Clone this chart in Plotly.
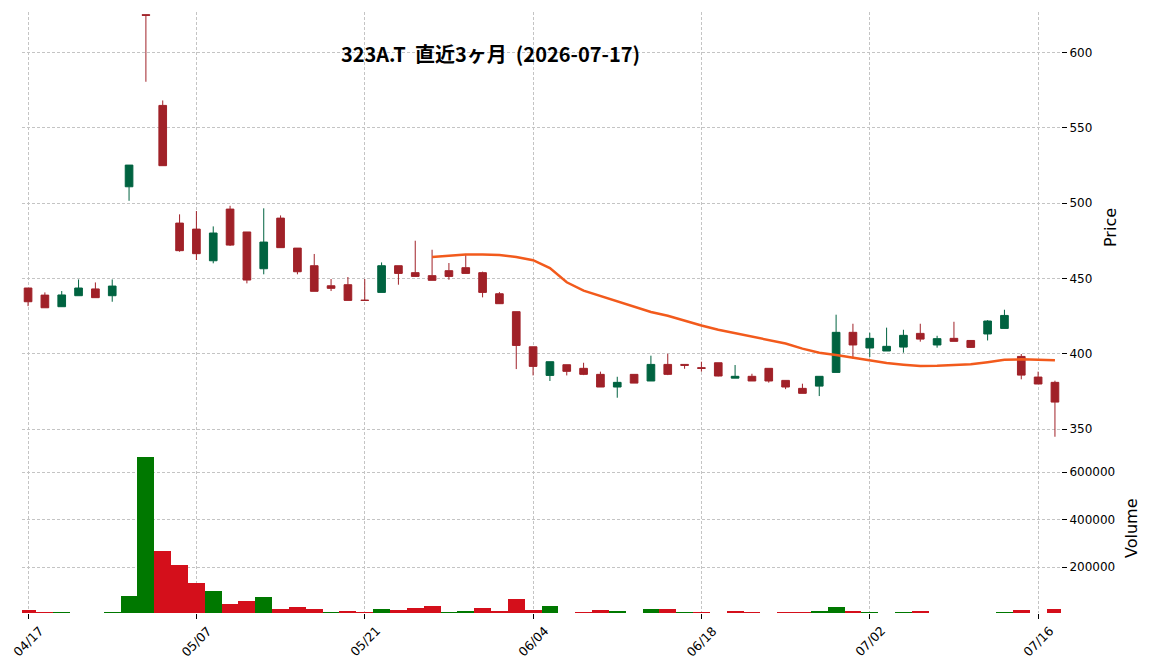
import plotly.graph_objects as go
import pandas as pd

# ---------------- data ----------------
dates = ["04/17", "04/20", "04/21", "04/22", "04/23", "04/24", "04/27", "04/28", "04/30", "05/01",
         "05/07", "05/08", "05/11", "05/12", "05/13", "05/14", "05/15", "05/18", "05/19", "05/20",
         "05/21", "05/22", "05/25", "05/26", "05/27", "05/28", "05/29", "06/01", "06/02", "06/03",
         "06/04", "06/05", "06/08", "06/09", "06/10", "06/11", "06/12", "06/15", "06/16", "06/17",
         "06/18", "06/19", "06/22", "06/23", "06/24", "06/25", "06/26", "06/29", "06/30", "07/01",
         "07/02", "07/03", "07/06", "07/07", "07/08", "07/09", "07/10", "07/13", "07/14", "07/15",
         "07/16", "07/17"]

opens = [443.6, 438.9, 431.2, 438.5, 443.0, 438.5, 510.8, 625.0, 564.8, 486.7,
         482.7, 461.7, 496.0, 480.8, 456.4, 490.0, 470.1, 458.4, 445.1, 445.8,
         435.5, 440.7, 458.4, 453.8, 451.8, 455.1, 457.1, 453.8, 439.8, 427.9,
         404.6, 385.6, 392.7, 390.3, 386.3, 377.9, 386.3, 381.9, 392.9, 392.9,
         390.7, 394.0, 383.8, 385.0, 390.3, 382.3, 377.0, 378.5, 387.6, 414.2,
         403.8, 401.8, 404.4, 413.5, 405.8, 410.2, 408.8, 413.1, 416.8, 398.2,
         384.5, 381.0]

highs = [443.6, 440.7, 441.6, 449.3, 447.3, 449.3, 525.2, 625.0, 568.1, 492.5,
         494.7, 484.5, 498.2, 480.8, 496.5, 491.8, 470.1, 466.2, 449.6, 450.9,
         449.6, 460.6, 458.4, 475.0, 469.0, 460.2, 466.2, 454.5, 440.9, 427.9,
         404.6, 394.7, 392.7, 394.0, 388.1, 384.7, 386.3, 398.7, 400.0, 392.9,
         394.7, 394.0, 392.5, 386.7, 390.3, 382.3, 380.1, 385.0, 425.9, 419.9,
         413.9, 417.3, 415.9, 419.9, 411.9, 421.2, 408.8, 422.3, 429.2, 399.8,
         388.1, 382.1]

lows = [431.6, 430.5, 431.0, 438.5, 437.2, 434.5, 501.5, 580.5, 524.8, 467.7,
        462.2, 460.0, 471.5, 446.7, 452.7, 470.4, 452.7, 441.4, 441.6, 435.4,
        435.4, 440.7, 445.8, 451.3, 448.7, 449.1, 453.3, 437.4, 433.0, 389.8,
        385.6, 381.9, 385.6, 385.8, 377.9, 370.8, 380.5, 381.9, 385.8, 390.0,
        388.1, 385.0, 383.8, 381.9, 380.8, 376.5, 373.7, 371.9, 387.6, 396.7,
        397.8, 401.8, 400.7, 408.0, 404.0, 408.2, 403.8, 408.8, 416.8, 383.0,
        379.9, 344.9]

closes = [434.5, 430.5, 439.0, 443.6, 437.2, 444.9, 525.2, 624.6, 524.8, 468.4,
          466.4, 480.1, 472.1, 448.9, 474.1, 470.4, 454.4, 441.4, 443.4, 435.4,
          435.4, 458.4, 453.3, 451.3, 448.7, 451.3, 453.3, 440.7, 433.2, 405.5,
          391.6, 394.7, 388.3, 386.3, 377.9, 381.0, 380.5, 392.9, 386.3, 392.3,
          390.3, 385.2, 385.0, 381.9, 381.9, 377.9, 373.7, 385.0, 414.2, 405.8,
          410.2, 404.9, 412.2, 409.7, 410.0, 408.2, 404.2, 421.7, 425.4, 385.8,
          379.9, 367.9]

volumes = [20400, 11900, 11900, 0, 0, 12000, 79300, 664600, 268800, 209800,
           134000, 100400, 45600, 58200, 75100, 24600, 33000, 24400, 11800, 16000,
           11800, 24400, 20200, 28600, 37000, 11800, 16000, 28600, 16000, 66500,
           20200, 37000, 0, 11800, 20200, 16000, 0, 24400, 24400, 11800,
           11800, 0, 16000, 11800, 0, 11800, 11800, 16000, 32800, 16000,
           10500, 0, 10500, 14700, 0, 0, 0, 0, 10500, 19000,
           0, 23000]

price_ticks = [350, 400, 450, 500, 550, 600]
volume_ticks = [200000, 400000, 600000]
ma_window = 25
title_text = "323A.T\u00a0\u00a0直近3ヶ月\u00a0\u00a0(2026-07-17)"

# ---------------- styles ----------------
UP_C = "#006340"
DOWN_C = "#a02128"
UP_VOL = "#007800"
DOWN_VOL = "#d40f1b"
MA_C = "#f25a1c"
GRID_C = "#c4c4c4"
TICK_FONT = dict(family="DejaVu Sans", size=12, color="#000000")

x = list(range(len(dates)))
ma = pd.Series(closes).rolling(ma_window).mean()

vol_colors = []
for i in range(len(closes)):
    up = closes[i] > opens[i] if i == 0 else closes[i] > closes[i - 1]
    vol_colors.append(UP_VOL if up else DOWN_VOL)

tickvals = x[::10]
ticktext = [dates[i] for i in tickvals]

fig = go.Figure()
fig.add_trace(go.Candlestick(
    x=x, open=opens, high=highs, low=lows, close=closes,
    increasing=dict(line=dict(color=UP_C, width=1), fillcolor=UP_C),
    decreasing=dict(line=dict(color=DOWN_C, width=1), fillcolor=DOWN_C),
    whiskerwidth=0, xaxis="x", yaxis="y", showlegend=False,
))
fig.add_trace(go.Scatter(
    x=x, y=ma, mode="lines", line=dict(color=MA_C, width=2.5),
    xaxis="x", yaxis="y", showlegend=False,
))
fig.add_trace(go.Bar(
    x=x, y=volumes, marker=dict(color=vol_colors, line=dict(width=0)),
    xaxis="x2", yaxis="y2", showlegend=False,
))

L, R, T, B = 22, 91, 12, 57
W, H = 1152, 670
plot_w = W - L - R
plot_h = H - T - B
price_bottom_px = 439
vol_top_px = 441
price_dom = [(H - B - price_bottom_px) / plot_h, 1.0]
vol_dom = [0.0, (H - B - vol_top_px) / plot_h]

grid = dict(showgrid=True, gridcolor=GRID_C, gridwidth=1, griddash="3px,2px",
            zeroline=False, showline=False, automargin=False)

fig.update_layout(
    width=W, height=H,
    margin=dict(l=L, r=R, t=T, b=B, autoexpand=False),
    paper_bgcolor="white", plot_bgcolor="white",
    bargap=0, boxgap=0.35,
    xaxis=dict(domain=[0, 1], range=[-0.36, len(dates) - 0.64], anchor="y",
               tickvals=tickvals, ticktext=ticktext, showticklabels=False, ticks="",
               rangeslider=dict(visible=False), **grid),
    xaxis2=dict(domain=[0, 1], matches="x", anchor="y2",
                tickvals=tickvals, ticktext=ticktext, showticklabels=False,
                ticks="outside", ticklen=5, tickcolor="#000000", tickwidth=1,
                **grid),
    yaxis=dict(domain=price_dom, range=[343.4, 626.8], side="right", anchor="x",
               tickvals=price_ticks, ticks="outside", ticklen=5, tickcolor="#000000",
               tickfont=TICK_FONT, **grid),
    yaxis2=dict(domain=vol_dom, range=[7600, 1.1 * max(volumes)], side="right", anchor="x2",
                tickvals=volume_ticks, ticktext=[str(v) for v in volume_ticks],
                ticks="outside", ticklen=5, tickcolor="#000000",
                tickfont=TICK_FONT, **grid),
    title=dict(text=title_text, x=490.5 / W, y=1 - 55 / H, xref="container", yref="container",
               xanchor="center", yanchor="middle",
               font=dict(family="Noto Sans CJK JP", size=20, color="#000000", weight="bold")),
    showlegend=False,
)


def px_to_paper(px, py):
    return (px - L) / plot_w, (H - B - py) / plot_h


# rotated x tick labels, centred under each tick (matplotlib-style rotation)
label_y = px_to_paper(0, 641)[1]
for tv, tt in zip(tickvals, ticktext):
    fig.add_annotation(text=tt, x=tv, y=label_y, xref="x2", yref="paper",
                       showarrow=False, textangle=-45, xanchor="center", yanchor="middle",
                       font=dict(family="DejaVu Sans", size=12.5, color="#000000"))

for label, (px, py) in [("Price", (1110, 228)), ("Volume", (1131, 528))]:
    ax_, ay_ = px_to_paper(px, py)
    fig.add_annotation(text=label, x=ax_, y=ay_, xref="paper", yref="paper",
                       showarrow=False, textangle=-90, xanchor="center", yanchor="middle",
                       font=dict(family="DejaVu Sans", size=16, color="#000000"))

fig.write_html("out.html")
